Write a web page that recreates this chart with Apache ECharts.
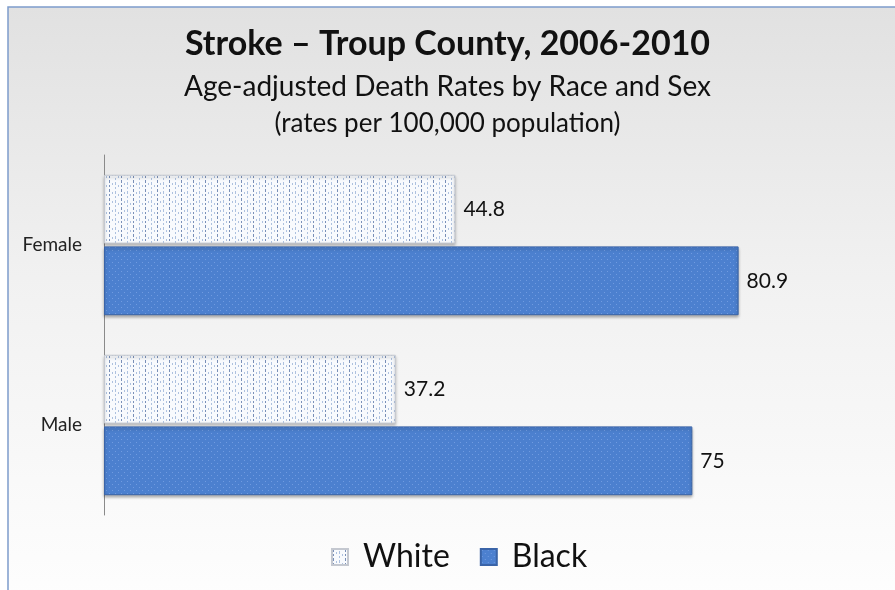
<!DOCTYPE html>
<html>
<head>
<meta charset="utf-8">
<script src="https://cdn.jsdelivr.net/npm/echarts@6/dist/echarts.min.js"></script>
<style>
  html, body { margin: 0; padding: 0; background: #ffffff; }
  #chart { width: 895px; height: 590px; }
</style>
</head>
<body>
<div id="chart"></div>
<script>
// Stroke death rates, Troup County 2006-2010
const categories = ['Female', 'Male'];
const seriesNames = ['White', 'Black'];
const whiteRates = [44.8, 37.2];
const blackRates = [80.9, 75];

const FONT = 'Lato, "Open Sans", "Noto Sans", sans-serif';

// Dotted fill used for the White bars
function whitePattern() {
  const c = document.createElement('canvas');
  c.width = 12; c.height = 9;
  const g = c.getContext('2d');
  g.fillStyle = '#f8fafd';
  g.fillRect(0, 0, 12, 9);
  g.fillStyle = '#7a90b8';
  g.fillRect(1, 0, 1, 3);
  g.fillRect(1, 5, 1, 2);
  g.fillStyle = '#adc1df';
  g.fillRect(4, 3, 1, 2);
  g.fillRect(7, 2, 1, 3);
  g.fillRect(7, 7, 1, 2);
  g.fillRect(10, 5, 1, 2);
  return c;
}

// Fine light-dot texture on the Black bars
function bluePattern() {
  const c = document.createElement('canvas');
  c.width = 6; c.height = 6;
  const g = c.getContext('2d');
  g.fillStyle = '#4c80cf';
  g.fillRect(0, 0, 6, 6);
  g.fillStyle = '#709be0';
  g.fillRect(1, 1, 1, 1);
  g.fillRect(4, 4, 1, 1);
  return c;
}

const chart = echarts.init(document.getElementById('chart'), null, { renderer: 'canvas' });

const labelStyle = {
  show: true,
  position: 'right',
  distance: 8,
  fontFamily: FONT,
  fontSize: 21,
  color: '#111111'
};

chart.setOption({
  animation: false,
  backgroundColor: '#ffffff',
  graphic: [{
    type: 'rect',
    z: -10,
    shape: { x: 8, y: 7, width: 900, height: 600 },
    style: {
      fill: new echarts.graphic.LinearGradient(0, 0, 0, 1, [
        { offset: 0, color: '#e1e1e1' },
        { offset: 0.45, color: '#f1f1f1' },
        { offset: 1, color: '#fefefe' }
      ]),
      stroke: '#7d9ccb',
      lineWidth: 1.5
    }
  }],
  title: [{
    text: 'Stroke – Troup County, 2006-2010',
    left: 'center',
    top: 22,
    textStyle: { fontFamily: FONT, fontWeight: 'bold', fontSize: 34, color: '#111111' }
  }, {
    text: 'Age-adjusted Death Rates by Race and Sex',
    left: 'center',
    top: 68,
    textStyle: { fontFamily: FONT, fontWeight: 'normal', fontSize: 28, color: '#111111' }
  }, {
    text: '(rates per 100,000 population)',
    left: 'center',
    top: 106,
    textStyle: { fontFamily: FONT, fontWeight: 'normal', fontSize: 26, color: '#111111' }
  }],
  legend: {
    data: seriesNames,
    bottom: 12,
    left: 326,
    icon: 'rect',
    itemWidth: 16,
    itemHeight: 16,
    itemGap: 30,
    textStyle: { fontFamily: FONT, fontSize: 32, color: '#111111', padding: [0, 0, 0, 10] }
  },
  grid: { left: 104, top: 155, width: 706, height: 360 },
  xAxis: {
    type: 'value',
    min: 0,
    max: 90,
    show: false
  },
  yAxis: {
    type: 'category',
    data: categories,
    inverse: true,
    axisLine: { show: true, lineStyle: { color: '#8a8a8a', width: 1 } },
    axisTick: { show: false },
    axisLabel: { fontFamily: FONT, fontSize: 19, color: '#222222', margin: 22 }
  },
  series: [{
    name: seriesNames[0],
    type: 'bar',
    data: whiteRates,
    barCategoryGap: '22%',
    barGap: '4%',
    itemStyle: {
      color: { image: whitePattern(), repeat: 'repeat' },
      borderColor: '#c4c8d0',
      borderWidth: 1,
      shadowColor: 'rgba(0,0,0,0.25)',
      shadowBlur: 3,
      shadowOffsetY: 2
    },
    label: labelStyle
  }, {
    name: seriesNames[1],
    type: 'bar',
    data: blackRates,
    barCategoryGap: '22%',
    barGap: '4%',
    itemStyle: {
      color: { image: bluePattern(), repeat: 'repeat' },
      borderColor: '#3a64a8',
      borderWidth: 1,
      shadowColor: 'rgba(0,0,0,0.3)',
      shadowBlur: 3,
      shadowOffsetY: 2
    },
    label: labelStyle
  }]
});
</script>
</body>
</html>
